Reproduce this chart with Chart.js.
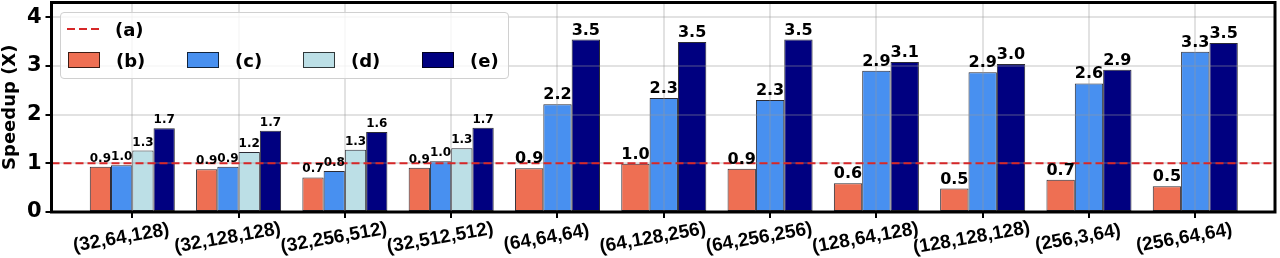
<!DOCTYPE html>
<html><head><meta charset="utf-8">
<script src="https://cdn.jsdelivr.net/npm/chart.js@4"></script>
<style>
html,body{margin:0;padding:0;background:#fff;}
#wrap{position:relative;width:1280px;height:258px;}
#legend{position:absolute;left:60px;top:12px;width:447px;height:65px;border:1.5px solid #d0d0d0;border-radius:4px;background:rgba(255,255,255,0.8);font:bold 18px "DejaVu Sans";color:#000;}
.item{position:absolute;height:22px;display:flex;align-items:center;white-space:nowrap}
.sw{width:30px;height:14px;border:1px solid rgba(0,0,0,0.75);margin-right:16px}
.ln{width:32px;height:14px;margin-right:16px}
</style></head>
<body>
<div id="wrap">
<canvas id="c" width="1280" height="258"></canvas>
<div id="legend"></div>
</div>
<script>
const CATEGORIES = ['(32,64,128)','(32,128,128)','(32,256,512)','(32,512,512)','(64,64,64)','(64,128,256)','(64,256,256)','(128,64,128)','(128,128,128)','(256,3,64)','(256,64,64)'];
const SERIES_NAMES = ['(b)','(c)','(d)','(e)'];
const B_VALUES = [0.93, 0.88, 0.71, 0.91, 0.90, 0.99, 0.89, 0.59, 0.48, 0.66, 0.53];
const C_VALUES = [0.96, 0.93, 0.84, 1.04, 2.21, 2.34, 2.30, 2.90, 2.87, 2.64, 3.29];
const D_VALUES = [1.26, 1.23, 1.28, 1.31, null, null, null, null, null, null, null];
const E_VALUES = [1.72, 1.67, 1.64, 1.73, 3.54, 3.49, 3.54, 3.08, 3.04, 2.92, 3.47];
const BASELINE_NAME = '(a)';
const BASELINE = 1;
const Y_TICKS = [0, 1, 2, 3, 4];
const Y_TITLE = 'Speedup (X)';

const SERIES = [B_VALUES, C_VALUES, D_VALUES, E_VALUES];
const COLORS = ['rgb(238,111,83)', 'rgb(72,144,240)', 'rgb(188,223,230)', 'rgb(0,0,128)'];
const EDGE = 'rgba(20,20,30,0.9)';
const RED = '#d62728';
const GRID = 'rgba(150,150,150,0.28)';
const FONT = '"DejaVu Sans"';

// legend (HTML, real text)
const lg = document.getElementById('legend');
function addItem(left, top, swatchHTML, text){
  const d = document.createElement('div');
  d.className = 'item'; d.style.left = left + 'px'; d.style.top = top + 'px';
  d.innerHTML = swatchHTML + '<span>' + text + '</span>';
  lg.appendChild(d);
}
addItem(6, 5, '<svg class="ln" width="32" height="14"><line x1="0" y1="7" x2="32" y2="7" stroke="'+RED+'" stroke-width="2" stroke-dasharray="8,4"/></svg>', BASELINE_NAME);
const lefts = [7, 126, 242, 361];
SERIES_NAMES.forEach((n, i) => addItem(lefts[i], 36, '<div class="sw" style="background:'+COLORS[i]+'"></div>', n));

const datasets = SERIES.map((vals, i) => ({
  label: SERIES_NAMES[i],
  data: vals.map((v, j) => ({x: j, y: v})),
  backgroundColor: COLORS[i],
  borderColor: EDGE,
  borderWidth: 1,
  borderSkipped: false,
  categoryPercentage: 0.8,
  barPercentage: 1.0,
  skipNull: true
}));

const overlay = {
  id: 'overlay',
  afterDraw(chart){
    const {ctx, chartArea: a, scales: {x, y}} = chart;
    ctx.save();
    const yb = y.getPixelForValue(BASELINE);
    ctx.strokeStyle = RED; ctx.lineWidth = 2; ctx.setLineDash([8, 4]);
    ctx.beginPath(); ctx.moveTo(a.left, yb); ctx.lineTo(a.right, yb); ctx.stroke();
    ctx.setLineDash([]);
    ctx.strokeStyle = '#000'; ctx.lineWidth = 3;
    ctx.strokeRect(a.left, a.top, a.right - a.left, a.bottom - a.top);
    ctx.fillStyle = '#000';
    chart.data.datasets.forEach((ds, di) => {
      const meta = chart.getDatasetMeta(di);
      meta.data.forEach((bar, i) => {
        const v = SERIES[di][i];
        if (v == null) return;
        const size = D_VALUES[i] == null ? 16 : 12;
        ctx.font = 'bold ' + size + 'px ' + FONT;
        ctx.textAlign = 'center'; ctx.textBaseline = 'alphabetic';
        ctx.fillText(v.toFixed(1), bar.x, bar.y - 5);
      });
    });
    ctx.font = 'bold 19px "Liberation Sans"';
    CATEGORIES.forEach((c, i) => {
      const px = x.getPixelForValue(i);
      ctx.save();
      ctx.translate(px - 11, 238);
      ctx.rotate(-10 * Math.PI / 180);
      ctx.textAlign = 'center'; ctx.textBaseline = 'middle';
      ctx.fillText(c, 0, 0);
      ctx.restore();
    });
    ctx.restore();
  }
};

new Chart(document.getElementById('c'), {
  type: 'bar',
  data: {datasets},
  options: {
    responsive: false,
    animation: false,
    devicePixelRatio: 1,
    layout: {padding: {top: 2.5, right: 5, left: 0, bottom: 0}},
    plugins: {legend: {display: false}, tooltip: {enabled: false}},
    scales: {
      x: {
        type: 'linear', min: -0.76, max: 10.75, offset: false,
        afterBuildTicks: s => { s.ticks = CATEGORIES.map((_, i) => ({value: i})); },
        ticks: {display: false},
        grid: {offset: false, color: GRID, lineWidth: 2, z: 1, drawTicks: true, tickColor: '#000', tickWidth: 2, tickLength: 6},
        border: {display: false},
        afterFit: s => { s.height = 258 - 212; s.paddingLeft = 0; s.paddingRight = 0; }
      },
      y: {
        min: 0, max: 4.3,
        afterBuildTicks: s => { s.ticks = Y_TICKS.map(v => ({value: v})); },
        ticks: {font: {family: FONT, weight: 'bold', size: 21}, color: '#000', padding: 4},
        grid: {color: GRID, lineWidth: 2, z: 1, drawTicks: true, tickColor: '#000', tickWidth: 2, tickLength: 6},
        border: {display: false},
        title: {display: true, text: Y_TITLE, font: {family: FONT, weight: 'bold', size: 18}, color: '#000', padding: {top: 0, bottom: 0}},
        afterFit: s => { s.width = 51.5; s.paddingTop = 0; s.paddingBottom = 0; }
      }
    }
  },
  plugins: [overlay]
});
</script>
</body></html>
